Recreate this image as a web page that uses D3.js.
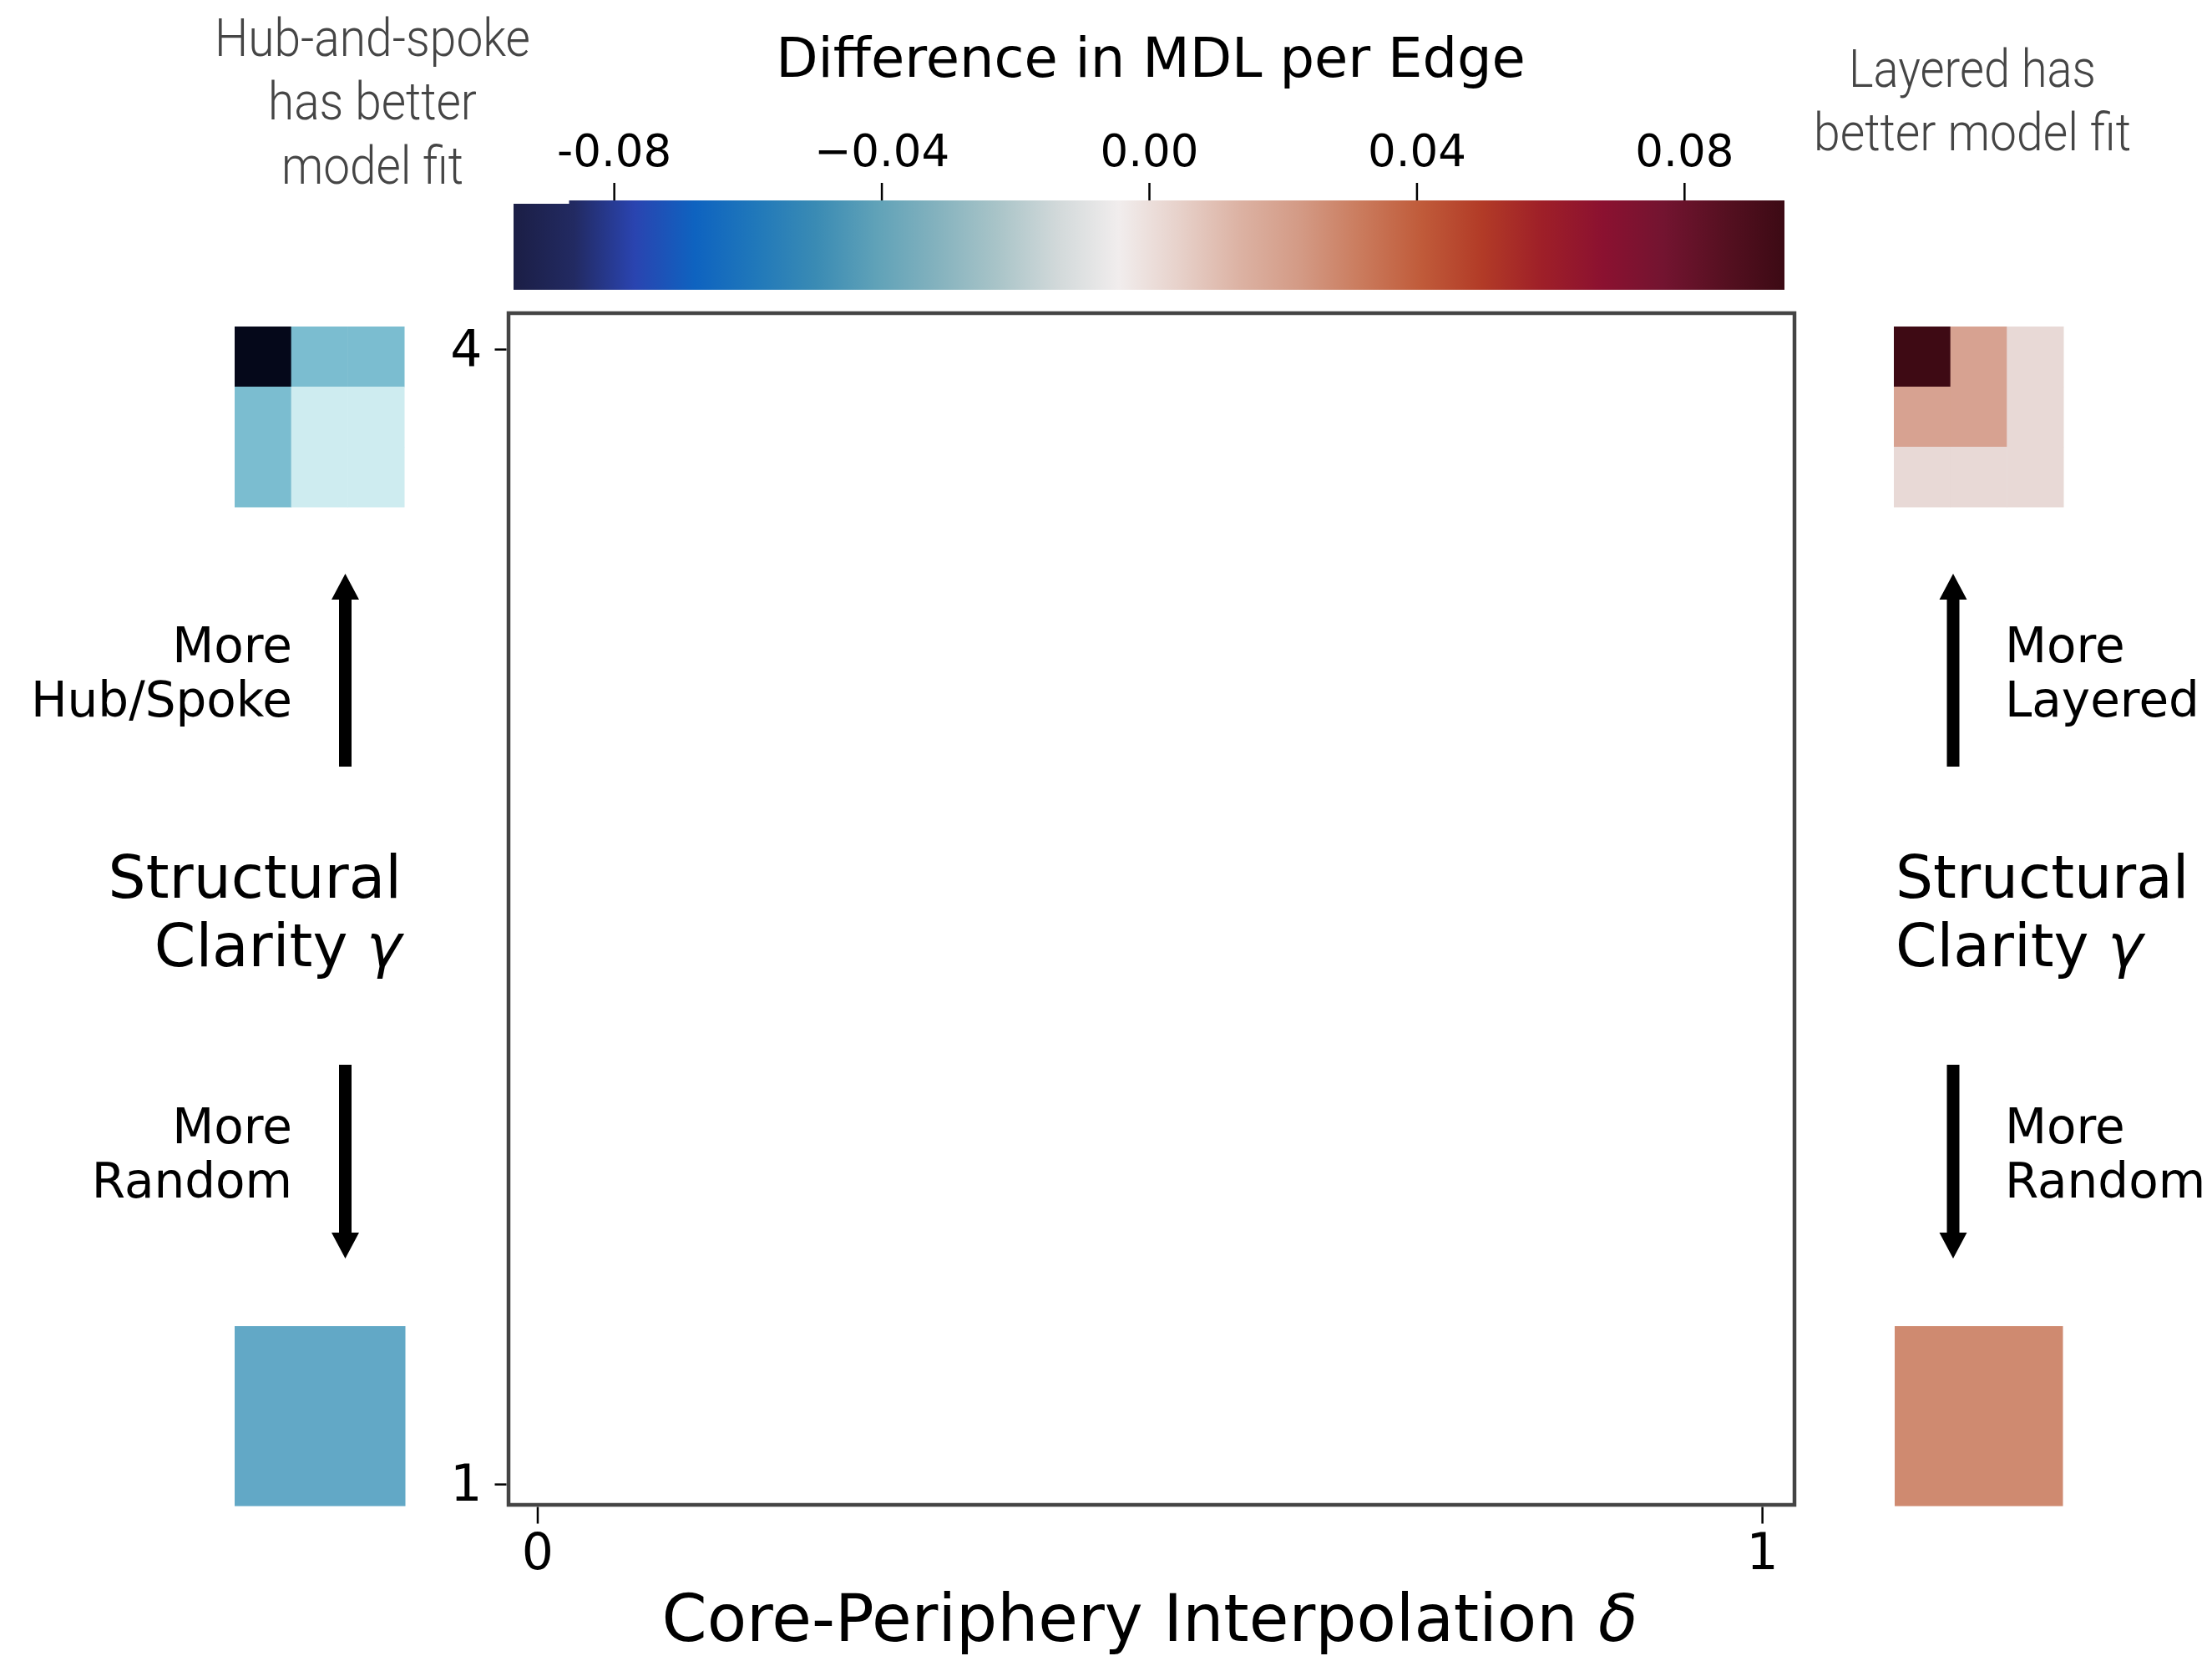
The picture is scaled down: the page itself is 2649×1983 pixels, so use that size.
<!DOCTYPE html>
<html>
<head>
<meta charset="utf-8">
<script src="https://cdn.jsdelivr.net/npm/d3@7"></script>
<style>
  html, body { margin: 0; padding: 0; background: #fff; }
  svg { display: block; }
  text { font-family: "DejaVu Sans", sans-serif; fill: #000; }
</style>
</head>
<body>
<svg id="chart" width="2649" height="1983"></svg>
<script>
// ---------- data ----------
const xTicks = [0, 1];
const xTickLabels = ["0", "1"];
const yTicks = [1, 4];
const yTickLabels = ["1", "4"];
const xDomain = [-0.0235, 1.0265];
const yDomain = [0.945, 4.095];

const cbarDomain = [-0.095, 0.095];
const cbarTicks = [-0.08, -0.04, 0.00, 0.04, 0.08];
const cbarTickLabels = ["-0.08", "\u22120.04", "0.00", "0.04", "0.08"];
// balance-like colormap samples (left -> right)
const cmapColors = ["#1b1e45","#222a62","#2a44b0","#0e63c0","#2078ba","#3a8bb4","#60a2b8",
  "#84b2be","#a9c4c8","#d2d9da","#f1eded","#e7d1ca","#dcb2a3","#d39a85","#ca7b5d",
  "#c05b3a","#b23b27","#9e1f28","#8b1130","#731430","#561021","#3c0a14"];

// structure sketches: level per block cell
const hubMatrix = [[2,1,1],[1,0,0],[1,0,0]];
const hubLevels = ["#ceecf0","#7bbdd0","#05081a"];
const layerMatrix = [[2,1,0],[1,1,0],[0,0,0]];
const layerLevels = ["#e8d9d6","#d7a291","#3e0a14"];
const randomHubMatrix = [[0]];
const randomHubLevels = ["#62a8c6"];
const randomLayerMatrix = [[0]];
const randomLayerLevels = ["#cf8a70"];

// ---------- layout ----------
const svg = d3.select("#chart");
const plot = {left: 609, right: 2149, top: 375, bottom: 1802};

const x = d3.scaleLinear().domain(xDomain).range([plot.left, plot.right]);
const y = d3.scaleLinear().domain(yDomain).range([plot.bottom, plot.top]);

// main frame (empty heatmap area)
svg.append("rect")
  .attr("x", plot.left).attr("y", plot.top)
  .attr("width", plot.right - plot.left).attr("height", plot.bottom - plot.top)
  .attr("fill", "#fff").attr("stroke", "#444").attr("stroke-width", 4.5);

// x axis
const xAxis = d3.axisBottom(x).tickValues(xTicks)
  .tickFormat((d, i) => xTickLabels[i]).tickSize(20).tickPadding(12);
const gx = svg.append("g").attr("transform", `translate(0,${plot.bottom + 2.5})`).call(xAxis);
gx.select(".domain").remove();
gx.selectAll(".tick line").attr("stroke", "#000").attr("stroke-width", 2.5);
gx.selectAll(".tick text").attr("font-size", 60).attr("font-family", "DejaVu Sans").attr("fill", "#000");

// y axis
const yAxis = d3.axisLeft(y).tickValues(yTicks)
  .tickFormat((d, i) => yTickLabels[i]).tickSize(14).tickPadding(15);
const gy = svg.append("g").attr("transform", `translate(${plot.left - 2.5},0)`).call(yAxis);
gy.select(".domain").remove();
gy.selectAll(".tick line").attr("stroke", "#000").attr("stroke-width", 2.5);
gy.selectAll(".tick text").attr("font-size", 60).attr("font-family", "DejaVu Sans").attr("fill", "#000");

// axis title
const xt = svg.append("text").attr("x", 1377).attr("y", 1965).attr("text-anchor", "middle")
  .attr("font-size", 77.5);
xt.append("tspan").text("Core-Periphery Interpolation ");
xt.append("tspan").attr("font-style", "italic").text("\u03b4");

// ---------- colorbar ----------
const cb = {left: 615, right: 2137, top: 240, bottom: 347};
const cx = d3.scaleLinear().domain(cbarDomain).range([cb.left, cb.right]);
const defs = svg.append("defs");
const grad = defs.append("linearGradient").attr("id", "cmap")
  .attr("x1", "0%").attr("x2", "100%").attr("y1", "0%").attr("y2", "0%");
grad.selectAll("stop").data(cmapColors).join("stop")
  .attr("offset", (d, i) => (i / (cmapColors.length - 1) * 100) + "%")
  .attr("stop-color", d => d);
svg.append("rect").attr("x", cb.left).attr("y", cb.top)
  .attr("width", cb.right - cb.left).attr("height", cb.bottom - cb.top)
  .attr("fill", "url(#cmap)");
// small notch at the top-left of the colorbar
svg.append("rect").attr("x", cb.left - 1).attr("y", cb.top - 1)
  .attr("width", cx(-0.0867) - cb.left + 1).attr("height", 5).attr("fill", "#fff");

const cAxis = d3.axisTop(cx).tickValues(cbarTicks)
  .tickFormat((d, i) => cbarTickLabels[i]).tickSize(21).tickPadding(20);
const gc = svg.append("g").attr("transform", `translate(0,${cb.top})`).call(cAxis);
gc.select(".domain").remove();
gc.selectAll(".tick line").attr("stroke", "#000").attr("stroke-width", 2.5);
gc.selectAll(".tick text").attr("font-size", 53).attr("font-family", "DejaVu Sans").attr("fill", "#000");

svg.append("text").attr("x", 1378).attr("y", 92).attr("text-anchor", "middle")
  .attr("font-size", 65.5).text("Difference in MDL per Edge");

// ---------- annotations ----------
function multiline(xp, ys, lines, opts) {
  lines.forEach((ln, i) => {
    const t = svg.append("text").attr("x", xp).attr("y", ys[i])
      .attr("text-anchor", opts.anchor).attr("font-size", opts.size);
    if (opts.family) t.style("font-family", opts.family);
    if (opts.weight) t.style("font-weight", opts.weight);
    if (opts.fill) t.style("fill", opts.fill);
    if (opts.lengths) t.attr("textLength", opts.lengths[i]).attr("lengthAdjust", "spacingAndGlyphs");
    if (Array.isArray(ln)) {
      ln.forEach(seg => { const s = t.append("tspan").text(seg.t); if (seg.i) s.attr("font-style", "italic"); });
    } else t.text(ln);
  });
}
multiline(446, [67, 143, 220], ["Hub-and-spoke", "has better", "model fit"],
  {anchor: "middle", size: 63, family: "Roboto", weight: 300, fill: "#454545", lengths: [378, 250, 218]});
multiline(2362, [104, 180], ["Layered has", "better model fit"],
  {anchor: "middle", size: 63, family: "Roboto", weight: 300, fill: "#454545", lengths: [296, 380]});

multiline(350, [793, 858], ["More", "Hub/Spoke"], {anchor: "end", size: 58});
multiline(350, [1369, 1434], ["More", "Random"], {anchor: "end", size: 58});
multiline(2401, [793, 858], ["More", "Layered"], {anchor: "start", size: 58});
multiline(2401, [1369, 1434], ["More", "Random"], {anchor: "start", size: 58});

multiline(481, [1075, 1157], ["Structural", [{t: "Clarity "}, {t: "\u03b3", i: true}]], {anchor: "end", size: 71});
multiline(2270, [1075, 1157], ["Structural", [{t: "Clarity "}, {t: "\u03b3", i: true}]], {anchor: "start", size: 71});

// ---------- arrows ----------
const arrows = [
  {x: 413.5, from: 918, to: 687},
  {x: 413.5, from: 1275, to: 1507},
  {x: 2339, from: 918, to: 687},
  {x: 2339, from: 1275, to: 1507}
];
const shaftW = 15, headW = 33, headL = 31;
svg.selectAll("path.arrow").data(arrows).join("path").attr("class", "arrow")
  .attr("fill", "#000")
  .attr("d", a => {
    const dir = a.to < a.from ? -1 : 1;
    const hb = a.to - dir * headL;
    const p = d3.path();
    p.moveTo(a.x - shaftW / 2, a.from);
    p.lineTo(a.x - shaftW / 2, hb);
    p.lineTo(a.x - headW / 2, hb);
    p.lineTo(a.x, a.to);
    p.lineTo(a.x + headW / 2, hb);
    p.lineTo(a.x + shaftW / 2, hb);
    p.lineTo(a.x + shaftW / 2, a.from);
    p.closePath();
    return p.toString();
  });

// ---------- structure sketches ----------
function sketch(matrix, levels, box) {
  const n = matrix.length;
  const bx = d3.scaleBand().domain(d3.range(n)).range([box.x0, box.x1]);
  const by = d3.scaleBand().domain(d3.range(n)).range([box.y0, box.y1]);
  const color = d3.scaleOrdinal().domain(d3.range(levels.length)).range(levels);
  const cells = [];
  matrix.forEach((row, r) => row.forEach((v, c) => cells.push({r, c, v})));
  svg.append("g").selectAll("rect").data(cells).join("rect")
    .attr("x", d => bx(d.c)).attr("y", d => by(d.r))
    .attr("width", bx.bandwidth() + 0.5).attr("height", by.bandwidth() + 0.5)
    .attr("fill", d => color(d.v));
}
sketch(hubMatrix, hubLevels, {x0: 281, x1: 484, y0: 391, y1: 607});
sketch(layerMatrix, layerLevels, {x0: 2268, x1: 2471, y0: 391, y1: 607});
sketch(randomHubMatrix, randomHubLevels, {x0: 281, x1: 485, y0: 1588, y1: 1803});
sketch(randomLayerMatrix, randomLayerLevels, {x0: 2269, x1: 2470, y0: 1588, y1: 1803});
</script>
</body>
</html>
